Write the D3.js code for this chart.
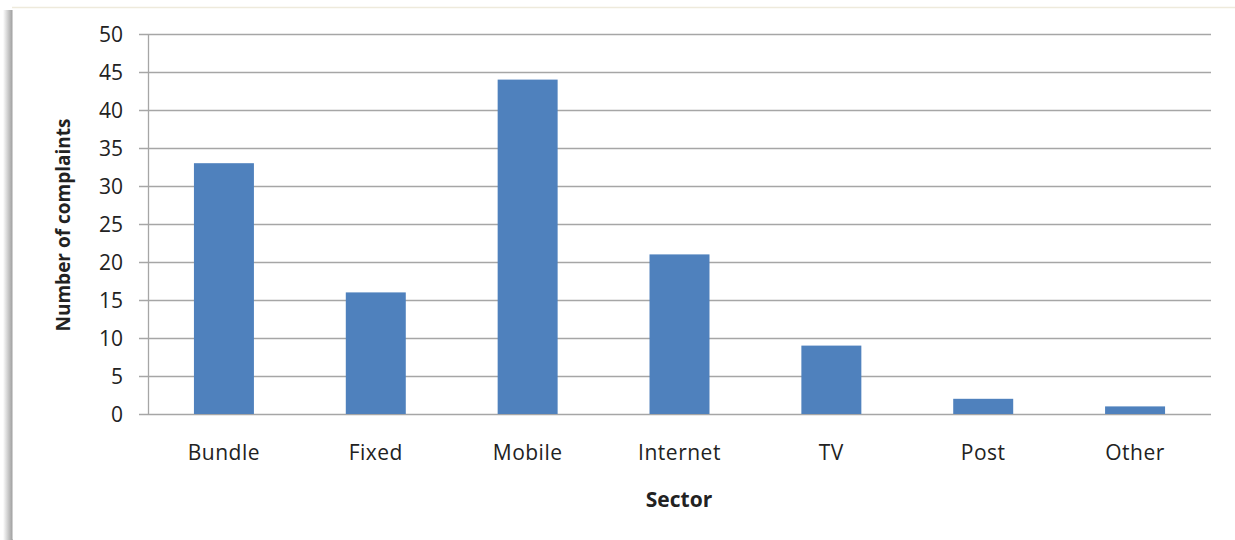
<!DOCTYPE html>
<html>
<head>
<meta charset="utf-8">
<script src="https://cdn.jsdelivr.net/npm/d3@7"></script>
<style>
  html, body { margin: 0; padding: 0; background: #fff; }
  svg { display: block; }
  text { font-family: "Open Sans", "Noto Sans", sans-serif; fill: #222; }
</style>
</head>
<body>
<div id="chart"></div>
<script>
// Chart data
const categories = ['Bundle', 'Fixed', 'Mobile', 'Internet', 'TV', 'Post', 'Other'];
const complaints = [33, 16, 44, 21, 9, 2, 1];
const yTicks = [0, 5, 10, 15, 20, 25, 30, 35, 40, 45, 50];

const width = 1235, height = 540;
const margin = { top: 34, right: 24, bottom: 126, left: 148 };
const innerWidth = width - margin.left - margin.right;
const innerHeight = height - margin.top - margin.bottom;

const svg = d3.select('#chart').append('svg')
  .attr('width', width)
  .attr('height', height);

// Frame with soft shadow on the left edge
const defs = svg.append('defs');
const grad = defs.append('linearGradient').attr('id', 'leftShadow');
grad.append('stop').attr('offset', '0%').attr('stop-color', '#fff');
grad.append('stop').attr('offset', '70%').attr('stop-color', '#b8b8b8');
grad.append('stop').attr('offset', '100%').attr('stop-color', '#999');
svg.append('rect')
  .attr('x', 3).attr('y', 10).attr('width', 10).attr('height', height - 10)
  .attr('fill', 'url(#leftShadow)');
svg.append('rect')
  .attr('x', 12.5).attr('y', 7.5).attr('width', width - 13).attr('height', height - 8)
  .attr('fill', '#fff');
svg.append('line')
  .attr('x1', 12).attr('x2', width)
  .attr('y1', 7.5).attr('y2', 7.5)
  .attr('stroke', '#eeeadc')
  .attr('stroke-width', 1.5);

const g = svg.append('g')
  .attr('transform', `translate(${margin.left},${margin.top})`);

const x = d3.scaleBand()
  .domain(categories)
  .range([0, innerWidth])
  .paddingInner(0.605)
  .paddingOuter(0.3025);

const y = d3.scaleLinear()
  .domain([0, 50])
  .range([innerHeight, 0]);

// Gridlines
g.append('g')
  .selectAll('line')
  .data(yTicks)
  .enter()
  .append('line')
  .attr('x1', -9)
  .attr('x2', innerWidth)
  .attr('y1', d => Math.round(y(d)) + 0.5)
  .attr('y2', d => Math.round(y(d)) + 0.5)
  .attr('stroke', '#a6a6a6')
  .attr('stroke-width', 1.3);

// Y axis line
g.append('line')
  .attr('x1', 0.5).attr('x2', 0.5)
  .attr('y1', 0).attr('y2', innerHeight)
  .attr('stroke', '#a6a6a6')
  .attr('stroke-width', 1.3);

// Y tick labels
g.append('g')
  .selectAll('text')
  .data(yTicks)
  .enter()
  .append('text')
  .attr('x', -25)
  .attr('y', d => y(d) + 1)
  .attr('dy', '0.35em')
  .attr('text-anchor', 'end')
  .style('font-size', '21px')
  .text(d => d);

// Bars
g.selectAll('.bar')
  .data(complaints)
  .enter()
  .append('rect')
  .attr('class', 'bar')
  .attr('x', (d, i) => x(categories[i]))
  .attr('y', d => y(d))
  .attr('width', x.bandwidth())
  .attr('height', d => innerHeight - y(d))
  .attr('fill', '#4f81bd');

// X tick labels
g.append('g')
  .selectAll('text')
  .data(categories)
  .enter()
  .append('text')
  .attr('x', d => x(d) + x.bandwidth() / 2)
  .attr('y', innerHeight + 46)
  .attr('text-anchor', 'middle')
  .style('font-size', '21px')
  .style('letter-spacing', '0.5px')
  .text(d => d);

// Axis titles
g.append('text')
  .attr('x', 679 - margin.left)
  .attr('y', innerHeight + 93)
  .attr('text-anchor', 'middle')
  .style('font-size', '21px')
  .style('font-weight', 'bold')
  .text('Sector');

g.append('text')
  .attr('transform', 'rotate(-90)')
  .attr('x', -(225 - margin.top))
  .attr('y', 70 - margin.left)
  .attr('text-anchor', 'middle')
  .style('font-size', '19px')
  .style('font-weight', 'bold')
  .text('Number of complaints');
</script>
</body>
</html>
